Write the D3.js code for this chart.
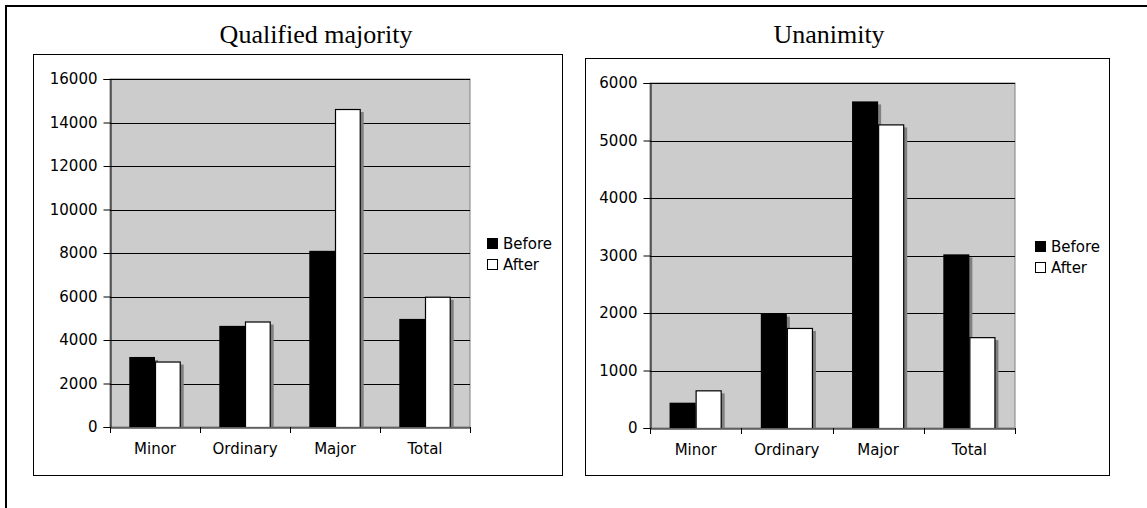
<!DOCTYPE html>
<html><head><meta charset="utf-8">
<script src="https://cdn.jsdelivr.net/npm/d3@7"></script>
<style>
html,body{margin:0;padding:0;background:#fff;}
svg{display:block;}
</style></head>
<body>
<svg id="c" width="1147" height="508"></svg>
<script>
const categories = ["Minor", "Ordinary", "Major", "Total"];
const seriesNames = ["Before", "After"];
const qmBefore = [3220, 4650, 8100, 4970];
const qmAfter = [3010, 4850, 14620, 5990];
const unBefore = [440, 1990, 5680, 3020];
const unAfter = [655, 1740, 5280, 1580];
const qmTicks = [0, 2000, 4000, 6000, 8000, 10000, 12000, 14000, 16000];
const unTicks = [0, 1000, 2000, 3000, 4000, 5000, 6000];
const titles = ["Qualified majority", "Unanimity"];

const svg = d3.select("#c");
const axisFont = "'DejaVu Sans', Verdana, sans-serif";

// outer frame
svg.append("rect").attr("x", 6).attr("y", 6).attr("width", 1300).attr("height", 700)
  .attr("fill", "none").attr("stroke", "#000").attr("stroke-width", 2);

function drawChart(cfg) {
  const g = svg.append("g");
  // chart box
  g.append("rect").attr("x", cfg.box[0] + 0.5).attr("y", cfg.box[1] + 0.5)
    .attr("width", cfg.box[2] - cfg.box[0]).attr("height", cfg.box[3] - cfg.box[1])
    .attr("fill", "#fff").attr("stroke", "#000").attr("stroke-width", 1);
  // title
  g.append("text").attr("x", cfg.titleX).attr("y", 43).attr("text-anchor", "middle")
    .style("font-family", "'Liberation Serif', 'Times New Roman', serif")
    .style("font-size", "26px").attr("fill", "#000").text(cfg.title);

  const [L, R, T, B] = cfg.plot;
  const x = d3.scaleBand().domain(categories).range([L, R])
    .paddingInner(1.5 / 3.5).paddingOuter(0.75 / 3.5);
  const xs = d3.scaleBand().domain(seriesNames).range([0, x.bandwidth()]);
  const y = d3.scaleLinear().domain([0, d3.max(cfg.ticks)]).range([B, T]);

  // plot area
  g.append("rect").attr("x", L).attr("y", y(d3.max(cfg.ticks)))
    .attr("width", R - L).attr("height", B - y(d3.max(cfg.ticks)))
    .attr("fill", "#cccccc").attr("stroke", "#808080").attr("stroke-width", 1);

  // gridlines
  g.append("g").selectAll("line").data(cfg.ticks.filter(t => t > 0)).join("line")
    .attr("x1", L).attr("x2", R)
    .attr("y1", d => Math.round(y(d)) + 0.5).attr("y2", d => Math.round(y(d)) + 0.5)
    .attr("stroke", "#000").attr("stroke-width", 1);

  const clipId = "clip" + cfg.id;
  g.append("clipPath").attr("id", clipId).append("rect")
    .attr("x", L).attr("y", 0).attr("width", R - L + 20).attr("height", B);

  const bars = g.append("g").attr("clip-path", "url(#" + clipId + ")");
  const data = [];
  categories.forEach((c, i) => {
    seriesNames.forEach((s, j) => {
      data.push({ c, s, v: (j === 0 ? cfg.before : cfg.after)[i] });
    });
  });
  data.forEach(d => {
    const bx = x(d.c) + xs(d.s);
    const w = xs.bandwidth();
    bars.append("rect").attr("x", bx + 3).attr("y", y(d.v) + 3)
      .attr("width", w).attr("height", B - y(d.v))
      .attr("fill", "#808080");
    bars.append("rect").attr("x", bx + (d.s === "After" ? 0.5 : 0)).attr("y", y(d.v) + (d.s === "After" ? 0.5 : 0))
      .attr("width", w - (d.s === "After" ? 1 : 0)).attr("height", B - y(d.v))
      .attr("fill", d.s === "Before" ? "#000" : "#fff")
      .attr("stroke", d.s === "After" ? "#000" : "none").attr("stroke-width", 1.2);
  });

  // y axis
  const ya = g.append("g").attr("transform", `translate(${L + 0.5},0)`)
    .call(d3.axisLeft(y).tickValues(cfg.ticks).tickSize(7).tickPadding(6).tickFormat(d3.format("d")));
  ya.selectAll("path").attr("stroke", "#000");
  ya.selectAll("line").attr("stroke", "#000");
  ya.selectAll("text").style("font-family", axisFont).style("font-size", "15px").attr("fill", "#000");

  // x axis
  const xa = g.append("g").attr("transform", `translate(0,${B + 0.5})`)
    .call(d3.axisBottom(x).tickSize(0).tickPadding(16));
  xa.select("path").attr("stroke", "#000");
  xa.selectAll("text").style("font-family", axisFont).style("font-size", "15px").attr("fill", "#000");
  const bounds = d3.range(categories.length + 1).map(i => x.range()[0] + i * x.step());
  g.append("g").selectAll("line").data(bounds).join("line")
    .attr("x1", d => Math.round(d) + 0.5).attr("x2", d => Math.round(d) + 0.5)
    .attr("y1", B).attr("y2", B + 6).attr("stroke", "#000");

  // legend
  const lg = g.append("g");
  seriesNames.forEach((s, i) => {
    const yy = cfg.legend[1] + i * 21;
    lg.append("rect").attr("x", cfg.legend[0] + 0.5).attr("y", yy + 0.5).attr("width", 10).attr("height", 10)
      .attr("fill", s === "Before" ? "#000" : "#fff").attr("stroke", "#000").attr("stroke-width", 1);
    lg.append("text").attr("x", cfg.legend[0] + 16).attr("y", yy + 10.5)
      .style("font-family", axisFont).style("font-size", "15px").attr("fill", "#000").text(s);
  });
}

drawChart({ id: 1, title: titles[0], titleX: 316, box: [33, 54, 562, 475],
  plot: [110, 470, 79, 427], ticks: qmTicks, before: qmBefore, after: qmAfter, legend: [487, 238] });
drawChart({ id: 2, title: titles[1], titleX: 829, box: [585, 58, 1109, 475],
  plot: [650, 1015, 83, 428], ticks: unTicks, before: unBefore, after: unAfter, legend: [1035, 241] });
</script>
</body></html>
